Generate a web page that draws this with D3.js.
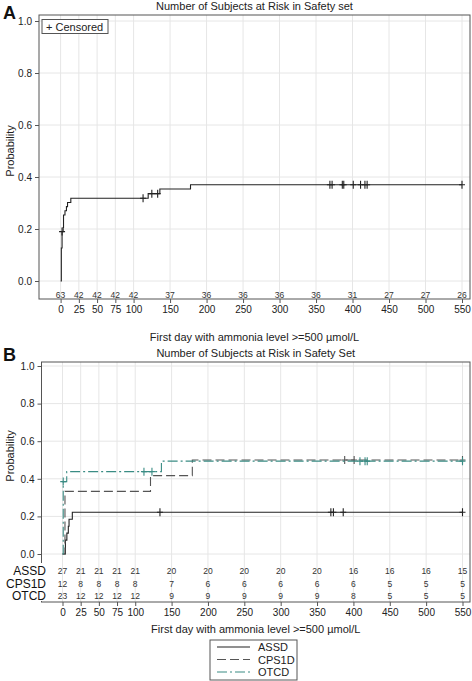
<!DOCTYPE html>
<html><head><meta charset="utf-8">
<script src="https://cdn.jsdelivr.net/npm/d3@7"></script>
<style>body{margin:0;background:#fff}svg{display:block;font-family:"Liberation Sans",Arial,sans-serif}</style>
</head><body>
<script>
// ---------- data ----------
const xTicks = [0,25,50,75,100,150,200,250,300,350,400,450,500,550];
const yTicks = [0,0.2,0.4,0.6,0.8,1.0];
// Panel A: cumulative probability steps [day, prob]
const stepsA = [[0,0],[1,0.127],[2,0.19],[3.5,0.206],[4,0.254],[6,0.27],[8,0.286],[9.5,0.302],[14,0.318],[120,0.336],[136,0.354],[178,0.370],[550,0.370]];
const censorA = [2,113,125,133,369,372,386,388,401,411,417,420,550];
const atRiskA = [63,42,42,42,42,37,36,36,36,36,31,27,27,26];
// Panel B
const groups = ["ASSD","CPS1D","OTCD"];
const stepsASSD = [[0,0],[4,0.074],[6,0.111],[8,0.148],[9,0.185],[13.5,0.222],[550,0.222]];
const stepsCPS1D = [[0,0],[3.4,0.333],[121,0.417],[178.5,0.5],[550,0.5]];
const stepsOTCD = [[0,0],[1,0.385],[5.8,0.438],[136,0.494],[550,0.494]];
const censorASSD = [134,369,372.5,386,550];
const censorCPS1D = [388,401,550];
const censorOTCD = [1,112,123,409,416,419,550];
const atRiskASSD = [27,21,21,21,21,20,20,20,20,20,16,16,16,15];
const atRiskCPS1D = [12,8,8,8,8,7,6,6,6,6,6,5,5,5];
const atRiskOTCD = [23,12,12,12,12,9,9,9,9,9,8,5,5,5];
const titleA = "Number of Subjects at Risk in Safety set";
const titleB = "Number of Subjects at Risk in Safety Set";
const xTitle = "First day with ammonia level >=500 µmol/L";

// ---------- drawing ----------
const svg = d3.select("body").append("svg").attr("width",472).attr("height",681);

function valAt(steps, t){ let v=steps[0][1]; for(const s of steps){ if(s[0]<=t) v=s[1]; } return v; }

function panel(cfg){
  const g = svg.append("g");
  const x = d3.scaleLinear().domain([0,550]).range(cfg.xr);
  const y = d3.scaleLinear().domain([0,1]).range(cfg.yr);
  const L=cfg.frame[0], T=cfg.frame[1], R=cfg.frame[2], B=cfg.frame[3];
  // grid
  g.append("g").selectAll("line").data(xTicks).join("line")
    .attr("x1",d=>x(d)).attr("x2",d=>x(d)).attr("y1",T).attr("y2",B)
    .attr("stroke","#e6e6e6").attr("stroke-width",1);
  g.append("g").selectAll("line").data(yTicks).join("line")
    .attr("x1",L).attr("x2",R).attr("y1",d=>y(d)).attr("y2",d=>y(d))
    .attr("stroke","#e6e6e6").attr("stroke-width",1);
  // frame
  g.append("rect").attr("x",L).attr("y",T).attr("width",R-L).attr("height",B-T)
    .attr("fill","none").attr("stroke","#555").attr("stroke-width",1);
  // y axis
  const ya = d3.axisLeft(y).tickValues(yTicks).tickFormat(d3.format(".1f")).tickSize(4).tickPadding(3);
  g.append("g").attr("transform",`translate(${L},0)`).call(ya)
    .call(s=>s.select(".domain").remove())
    .call(s=>s.selectAll("line").attr("stroke","#555"))
    .call(s=>s.selectAll("text").attr("font-size",10).attr("fill","#222").attr("font-family","Liberation Sans, Arial"));
  // x axis
  const xa = d3.axisBottom(x).tickValues(xTicks).tickSize(4).tickPadding(3);
  g.append("g").attr("transform",`translate(0,${B})`).call(xa)
    .call(s=>s.select(".domain").remove())
    .call(s=>s.selectAll("line").attr("stroke","#555"))
    .call(s=>s.selectAll("text").attr("font-size",10).attr("fill","#222").attr("font-family","Liberation Sans, Arial"));
  // titles
  g.append("text").attr("x",(L+R)/2).attr("y",T-5).attr("text-anchor","middle").attr("font-size",11).attr("fill","#222").text(cfg.title);
  g.append("text").attr("x",(L+R)/2).attr("y",B+cfg.xtOff).attr("text-anchor","middle").attr("font-size",11).attr("fill","#222").text(xTitle);
  g.append("text").attr("transform",`translate(14,${cfg.ylabY}) rotate(-90)`).attr("text-anchor","middle").attr("font-size",11).attr("fill","#222").text("Probability");
  g.append("text").attr("x",3).attr("y",cfg.letterY).attr("font-size",18).attr("font-weight","bold").attr("fill","#111").text(cfg.letter);
  // curves
  const line = d3.line().x(d=>x(d[0])).y(d=>y(d[1])).curve(d3.curveStepAfter);
  cfg.series.forEach(s=>{
    g.append("path").attr("d",line(s.steps)).attr("fill","none").attr("stroke",s.color)
      .attr("stroke-width",1.1).attr("stroke-dasharray",s.dash||null);
    g.append("g").selectAll("path").data(s.censor).join("path")
      .attr("d",d=>{const px=x(d), py=y(valAt(s.steps,d)); return `M${px-3},${py}H${px+3}M${px},${py-4}V${py+4}`;})
      .attr("stroke",s.color).attr("stroke-width",1.1).attr("fill","none");
  });
  return {g,x,y};
}

// Panel A
const pA = panel({xr:[60.6,462],yr:[281,21],frame:[39,15,470,299],title:titleA,ylabY:151,letter:"A",letterY:19,xtOff:42,
  series:[{steps:stepsA,censor:censorA,color:"#222"}]});
pA.g.append("g").selectAll("text").data(atRiskA).join("text")
  .attr("x",(d,i)=>pA.x(xTicks[i])).attr("y",299).attr("dy",-1).attr("text-anchor","middle")
  .attr("font-size",8.5).attr("fill","#333").text(d=>d);
// censored legend
pA.g.append("rect").attr("x",42).attr("y",19.5).attr("width",66).attr("height",14).attr("fill","#fff").attr("stroke","#555");
pA.g.append("text").attr("x",46).attr("y",30.5).attr("font-size",11).attr("fill","#222").text("+ Censored");

// Panel B
const colT = "#3a8c84";
const pB = panel({xr:[62.5,462.5],yr:[554,366],frame:[41.5,362,470,602],title:titleB,ylabY:456,letter:"B",letterY:361,xtOff:31,
  series:[
    {steps:stepsASSD,censor:censorASSD,color:"#222"},
    {steps:stepsCPS1D,censor:censorCPS1D,color:"#555",dash:"9,4"},
    {steps:stepsOTCD,censor:censorOTCD,color:colT,dash:"10,3,2,3"}
  ]});
// white backdrop for row labels (covers the wall edge behind them)
pB.g.append("rect").attr("x",0).attr("y",563).attr("width",48).attr("height",38).attr("fill","#fff");
const rowsB = [atRiskASSD,atRiskCPS1D,atRiskOTCD];
const rowY = [573.5,586.5,599];
rowsB.forEach((r,k)=>{
  pB.g.append("g").selectAll("text").data(r).join("text")
    .attr("x",(d,i)=>pB.x(xTicks[i])).attr("y",rowY[k]).attr("text-anchor","middle")
    .attr("font-size",8.5).attr("fill","#333").text(d=>d);
  pB.g.append("text").attr("x",46).attr("y",rowY[k]+1).attr("text-anchor","end")
    .attr("font-size",12).attr("fill","#111").text(groups[k]);
});
// legend B
const lg = svg.append("g");
lg.append("rect").attr("x",210).attr("y",640).attr("width",87).attr("height",40).attr("fill","#fff").attr("stroke","#555");
const legDash=[null,"9,4","10,3,2,3"], legCol=["#222","#555",colT];
groups.forEach((gname,k)=>{
  const yy=647+k*12.5;
  lg.append("line").attr("x1",217).attr("x2",250).attr("y1",yy).attr("y2",yy).attr("stroke",legCol[k]).attr("stroke-width",1.1).attr("stroke-dasharray",legDash[k]);
  lg.append("text").attr("x",258).attr("y",yy+4).attr("font-size",11).attr("fill","#222").text(gname);
});
</script>
</body></html>
